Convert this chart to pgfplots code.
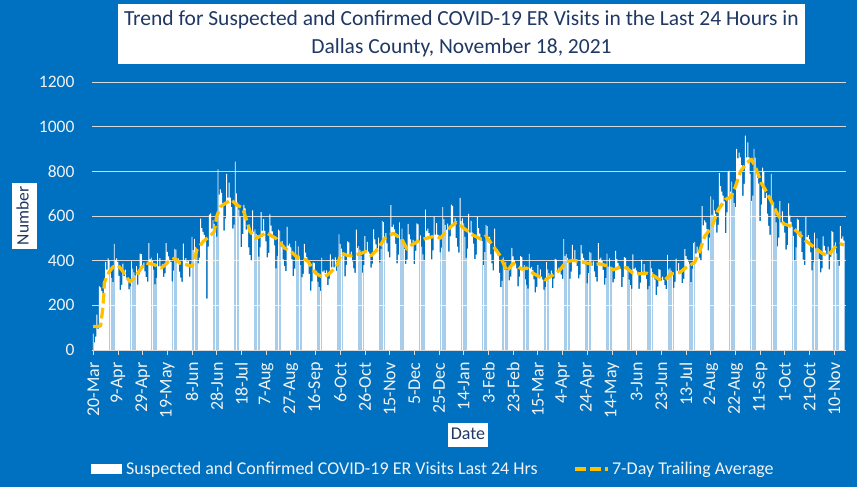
\documentclass[border=0pt]{standalone}
\usepackage{fontspec}
\setmainfont{Carlito}
\usepackage{pgfplots}
\pgfplotsset{compat=1.18}
\definecolor{bgblue}{HTML}{0070C0}
\definecolor{navy}{HTML}{203864}
\definecolor{avgyellow}{HTML}{FFC000}
\definecolor{gridgray}{HTML}{D9D9D9}
\definecolor{ticktext}{HTML}{F2F2F2}
\begin{document}
\begin{tikzpicture}
\path[use as bounding box] (0,0) rectangle (857pt,487pt);
\fill[bgblue] (0,0) rectangle (857pt,487pt);
\begin{axis}[
  at={(92pt,137pt)}, anchor=south west,
  scale only axis, width=754pt, height=268pt,
  xmin=-1, xmax=609.5, ymin=0, ymax=1200,
  ytick={0,200,...,1200},
  xtick={0,20,...,600},
  xticklabels={20-Mar,9-Apr,29-Apr,19-May,8-Jun,28-Jun,18-Jul,7-Aug,27-Aug,16-Sep,6-Oct,26-Oct,15-Nov,5-Dec,25-Dec,14-Jan,3-Feb,23-Feb,15-Mar,4-Apr,24-Apr,14-May,3-Jun,23-Jun,13-Jul,2-Aug,22-Aug,11-Sep,1-Oct,21-Oct,10-Nov},
  axis lines*=left,
  x axis line style={draw=gridgray, line width=0.8pt, -},
  y axis line style={draw=none},
  ytick style={draw=none},
  xtick style={draw=gridgray, line width=0.8pt},
  tick align=outside, major tick length=5pt,
  ymajorgrids, grid style={draw=gridgray, line width=0.8pt},
  /pgf/number format/assume math mode=true,
  /pgf/number format/1000 sep={},
  tick label style={font=\fontsize{17.5}{20}\selectfont, text=ticktext},
  xticklabel style={rotate=90, anchor=east, font=\fontsize{18}{20}\selectfont},
  xticklabel shift=4pt,
  yticklabel style={xshift=-9pt},
  title={Trend for Suspected and Confirmed COVID-19 ER Visits in the Last 24 Hours in\\Dallas County, November 18, 2021},
  title style={at={(axis description cs:0.490,1.157)}, anchor=center, fill=white, text=navy, minimum width=687pt, minimum height=60pt, align=center, font=\fontsize{21.5}{28}\selectfont},
  xlabel={Date},
  xlabel style={at={(axis description cs:0.4987,-0.318)}, anchor=center, fill=white, text=navy, font=\fontsize{18}{21}\selectfont, inner xsep=3pt, inner ysep=3.5pt, text height=12.5pt, text depth=4pt},
  ylabel={Number},
  ylabel style={at={(axis description cs:-0.0895,0.5)}, anchor=center, fill=white, text=navy, font=\fontsize{17.5}{21}\selectfont, inner xsep=4pt, inner ysep=4pt, text height=12.5pt, text depth=4.5pt},
  legend style={at={(axis description cs:-0.0053,-0.444)}, anchor=west, draw=none, fill=none, text=ticktext, font=\fontsize{18}{21}\selectfont, /tikz/every even column/.append style={column sep=34pt}},
  legend columns=2, legend cell align=left,
]
\addplot[ybar, bar width=0.74, fill=white, draw=none,
  legend image code/.code={\fill[white] (0pt,-5pt) rectangle (31pt,5pt); \path (33pt,0pt);}]
coordinates {
(0,73)(1,34)(2,60)(3,158)(4,95)(5,285)(6,280)
(7,265)(8,230)(9,290)(10,395)(11,360)(12,410)(13,400)
(14,350)(15,323)(16,304)(17,475)(18,403)(19,410)(20,395)
(21,332)(22,269)(23,292)(24,387)(25,331)(26,360)(27,324)
(28,318)(29,271)(30,285)(31,397)(32,364)(33,348)(34,334)
(35,376)(36,293)(37,338)(38,432)(39,429)(40,372)(41,391)
(42,352)(43,326)(44,306)(45,479)(46,406)(47,414)(48,398)
(49,360)(50,294)(51,323)(52,433)(53,374)(54,411)(55,374)
(56,383)(57,327)(58,343)(59,479)(60,439)(61,419)(62,403)
(63,394)(64,307)(65,355)(66,453)(67,449)(68,390)(69,410)
(70,351)(71,324)(72,305)(73,476)(74,404)(75,411)(76,396)
(77,398)(78,328)(79,370)(80,507)(81,447)(82,498)(83,462)
(84,449)(85,388)(86,414)(87,588)(88,546)(89,529)(90,516)
(91,494)(92,230)(93,463)(94,606)(95,612)(96,544)(97,581)
(98,565)(99,530)(100,508)(101,809)(102,696)(103,719)(104,703)
(105,656)(106,535)(107,589)(108,789)(109,682)(110,749)(111,682)
(112,640)(113,543)(114,561)(115,843)(116,701)(117,661)(118,628)
(119,595)(120,461)(121,519)(122,650)(123,634)(124,539)(125,558)
(126,460)(127,425)(128,400)(129,625)(130,530)(131,540)(132,520)
(133,513)(134,418)(135,460)(136,617)(137,533)(138,586)(139,533)
(140,486)(141,415)(142,435)(143,607)(144,557)(145,531)(146,511)
(147,469)(148,366)(149,422)(150,539)(151,535)(152,464)(153,488)
(154,406)(155,375)(156,353)(157,551)(158,467)(159,476)(160,459)
(161,406)(162,331)(163,364)(164,489)(165,422)(166,464)(167,422)
(168,380)(169,325)(170,341)(171,475)(172,436)(173,416)(174,400)
(175,341)(176,266)(177,307)(178,392)(179,389)(180,338)(181,355)
(182,305)(183,281)(184,265)(185,414)(186,351)(187,357)(188,344)
(189,356)(190,290)(191,319)(192,428)(193,370)(194,407)(195,370)
(196,415)(197,354)(198,372)(199,518)(200,475)(201,454)(202,436)
(203,423)(204,330)(205,381)(206,486)(207,482)(208,419)(209,440)
(210,397)(211,366)(212,345)(213,539)(214,457)(215,465)(216,448)
(217,423)(218,346)(219,380)(220,510)(221,441)(222,484)(223,441)
(224,432)(225,369)(226,387)(227,540)(228,495)(229,473)(230,455)
(231,503)(232,392)(233,453)(234,578)(235,573)(236,498)(237,523)
(238,477)(239,441)(240,415)(241,649)(242,550)(243,561)(244,540)
(245,475)(246,388)(247,427)(248,572)(249,495)(250,543)(251,495)
(252,452)(253,386)(254,405)(255,565)(256,518)(257,495)(258,476)
(259,493)(260,385)(261,444)(262,567)(263,562)(264,488)(265,513)
(266,463)(267,428)(268,402)(269,629)(270,533)(271,543)(272,523)
(273,497)(274,406)(275,446)(276,598)(277,517)(278,568)(279,517)
(280,512)(281,437)(282,458)(283,640)(284,586)(285,560)(286,538)
(287,566)(288,441)(289,509)(290,651)(291,645)(292,560)(293,589)
(294,501)(295,463)(296,436)(297,681)(298,578)(299,589)(300,567)
(301,506)(302,413)(303,454)(304,609)(305,526)(306,578)(307,526)
(308,476)(309,407)(310,427)(311,595)(312,546)(313,521)(314,501)
(315,487)(316,380)(317,438)(318,560)(319,555)(320,482)(321,506)
(322,428)(323,388)(324,357)(325,543)(326,450)(327,450)(328,422)
(329,345)(330,282)(331,310)(332,415)(333,359)(334,394)(335,359)
(336,366)(337,312)(338,328)(339,457)(340,419)(341,400)(342,385)
(343,365)(344,285)(345,329)(346,420)(347,416)(348,361)(349,380)
(350,316)(351,292)(352,275)(353,430)(354,365)(355,372)(356,358)
(357,316)(358,258)(359,283)(360,380)(361,328)(362,361)(363,328)
(364,315)(365,269)(366,282)(367,394)(368,361)(369,344)(370,331)
(371,355)(372,277)(373,320)(374,408)(375,405)(376,351)(377,369)
(378,365)(379,337)(380,318)(381,496)(382,421)(383,429)(384,413)
(385,391)(386,319)(387,351)(388,471)(389,407)(390,447)(391,407)
(392,376)(393,321)(394,337)(395,470)(396,431)(397,412)(398,396)
(399,382)(400,298)(401,344)(402,439)(403,435)(404,378)(405,397)
(406,352)(407,326)(408,306)(409,479)(410,406)(411,414)(412,398)
(413,359)(414,293)(415,322)(416,432)(417,373)(418,410)(419,373)
(420,355)(421,303)(422,318)(423,444)(424,407)(425,389)(426,374)
(427,362)(428,282)(429,326)(430,416)(431,413)(432,358)(433,376)
(434,315)(435,291)(436,274)(437,428)(438,363)(439,369)(440,356)
(441,336)(442,274)(443,302)(444,405)(445,350)(446,384)(447,350)
(448,319)(449,272)(450,286)(451,398)(452,365)(453,349)(454,335)
(455,315)(456,246)(457,284)(458,362)(459,359)(460,312)(461,328)
(462,314)(463,290)(464,273)(465,426)(466,361)(467,368)(468,355)
(469,340)(470,278)(471,305)(472,409)(473,354)(474,389)(475,354)
(476,347)(477,299)(478,319)(479,452)(480,420)(481,406)(482,396)
(483,386)(484,304)(485,364)(486,478)(487,484)(488,432)(489,463)
(490,438)(491,414)(492,400)(493,644)(494,558)(495,580)(496,572)
(497,541)(498,446)(499,503)(500,688)(501,605)(502,673)(503,625)
(504,610)(505,525)(506,560)(507,792)(508,734)(509,709)(510,691)
(511,666)(512,523)(513,616)(514,800)(515,803)(516,709)(517,754)
(518,703)(519,658)(520,640)(521,900)(522,858)(523,884)(524,863)
(525,828)(526,690)(527,744)(528,960)(529,862)(530,930)(531,862)
(532,789)(533,668)(534,691)(535,900)(536,861)(537,813)(538,771)
(539,745)(540,577)(541,651)(542,817)(543,797)(544,680)(545,703)
(546,611)(547,556)(548,515)(549,789)(550,659)(551,661)(552,626)
(553,572)(554,464)(555,503)(556,667)(557,570)(558,621)(559,558)
(560,525)(561,449)(562,470)(563,656)(564,602)(565,574)(566,552)
(567,511)(568,399)(569,460)(570,588)(571,583)(572,506)(573,531)
(574,438)(575,405)(576,381)(577,595)(578,505)(579,514)(580,495)
(581,437)(582,357)(583,392)(584,526)(585,455)(586,500)(587,455)
(588,407)(589,348)(590,365)(591,509)(592,466)(593,445)(594,428)
(595,463)(596,361)(597,417)(598,532)(599,528)(600,458)(601,482)
(602,433)(603,400)(604,377)(605,555)(606,499)(607,509)(608,490)
};
\addlegendentry{Suspected and Confirmed COVID-19 ER Visits Last 24 Hrs}
\addplot[color=avgyellow, line width=3.3pt, dash pattern=on 10.7pt off 4.3pt, line join=round,
  legend image code/.code={\draw[avgyellow, line width=3.3pt, dash pattern=on 10.7pt off 4.3pt] (0pt,0pt) -- (33pt,0pt);}]
coordinates {
(0,105)(3,105)(6,108)(8,200)(9,300)(11,330)(13,350)(16,372)(20,380)(24,352)(27,325)(30,305)(33,322)(36,344)(40,375)(43,389)(47,385)(50,381)(55,367)(58,380)(61,396)(66,411)(70,389)(76,381)(80,374)(84,449)(89,486)(94,508)(98,530)(100,598)(103,642)(108,660)(112,672)(116,650)(121,635)(124,583)(127,530)(132,500)(136,512)(140,526)(144,512)(148,500)(155,456)(159,446)(165,416)(170,411)(174,396)(180,344)(186,325)(190,337)(197,374)(201,434)(205,425)(208,422)(216,431)(221,441)(225,422)(231,456)(236,500)(243,523)(250,496)(254,452)(258,471)(265,493)(273,505)(278,511)(281,500)(286,533)(290,555)(294,571)(297,560)(300,545)(304,530)(307,516)(311,505)(314,496)(318,511)(323,471)(329,426)(335,352)(340,389)(347,362)(351,367)(356,344)(363,322)(366,314)(371,332)(378,359)(383,396)(389,401)(397,393)(405,382)(410,386)(416,377)(421,359)(428,374)(432,367)(437,344)(443,341)(448,344)(454,332)(458,317)(463,314)(468,341)(475,347)(481,374)(487,392)(491,441)(495,508)(501,553)(506,628)(512,675)(516,684)(520,732)(524,799)(529,837)(533,854)(537,807)(541,747)(545,710)(549,665)(553,620)(559,565)(564,556)(570,530)(576,493)(583,463)(590,434)(595,422)(601,463)(605,475)(608,471)
};
\addlegendentry{7-Day Trailing Average}
\end{axis}
\end{tikzpicture}
\end{document}
